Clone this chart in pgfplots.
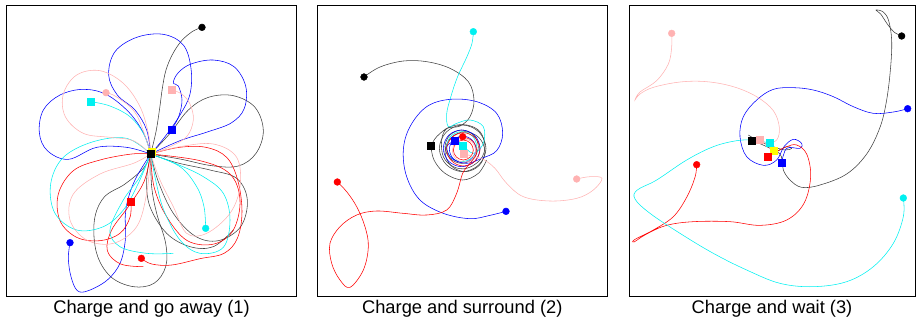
\documentclass[border=0pt]{standalone}
\usepackage{fontspec}
\setmainfont{Liberation Sans}
\usepackage{pgfplots}
\pgfplotsset{compat=1.18}
\definecolor{pinkc}{RGB}{255,178,178}
\definecolor{cyanc}{RGB}{0,240,240}
\definecolor{yel}{RGB}{255,255,0}
\pgfplotsset{
  panel/.style={scale only axis, y dir=reverse, ymin=17, ymax=888,
    xtick=\empty, ytick=\empty, axis line style={line width=0.6pt},
    anchor=north west, clip=true},
  tr/.style={smooth, tension=0.6, line width=0.55pt, no marks},
  dot/.style={only marks, mark=*, mark size=3.4pt, mark options={draw=#1, fill=#1}, color=#1},
  sq/.style={only marks, mark=square*, mark size=3.6pt, mark options={draw=#1, fill=#1}, color=#1},
}
\begin{document}
\begin{tikzpicture}[x=1pt,y=1pt]
\useasboundingbox (0,0) rectangle (916,-322);
% ---------------- Panel 1 ----------------
\begin{axis}[panel, at={(6.67pt,-5.67pt)}, width=289.33pt, height=290.33pt, xmin=20, xmax=888]
% black
\addplot[tr, black!75] coordinates {(606,82) (578,94) (545,122) (518,162) (498,210) (487,265) (479,325) (468,395) (452,462)};
\addplot[tr, black!75] coordinates {(452,462) (510,400) (565,330) (625,292) (700,287) (765,322) (790,392) (768,460) (715,498) (635,497) (545,478) (452,462)};
\addplot[tr, black!75] coordinates {(452,462) (530,488) (630,510) (710,535) (742,600) (722,680) (655,722) (585,708) (520,640) (475,545) (452,462)};
\addplot[tr, black!75] coordinates {(452,462) (430,505) (375,552) (312,592) (283,662) (290,760) (332,830) (400,860) (462,850) (497,800) (497,730) (470,640) (455,560) (452,462)};
\addplot[tr, black!75] coordinates {(452,462) (440,540) (450,620) (500,700) (570,740) (640,740) (700,690)};
% blue
\addplot[tr, blue] coordinates {(210,728) (205,775) (213,830) (232,872) (265,872) (322,840) (360,790) (376,720) (376,645) (386,590) (410,530) (452,462)};
\addplot[tr, blue] coordinates {(452,462) (440,390) (405,330) (352,285) (326,225) (345,155) (410,112) (490,103) (550,135) (573,205) (570,282) (540,345) (495,410) (452,462)};
\addplot[tr, blue] coordinates {(452,462) (540,422) (625,395) (695,368) (733,325) (737,258) (702,200) (640,180) (573,192) (535,218) (520,248) (535,258) (546,300) (536,350) (515,388)};
\addplot[tr, blue] coordinates {(452,462) (380,442) (290,442) (205,478) (142,452) (118,398) (130,330) (180,285) (250,268) (320,284) (388,338) (432,402) (452,462)};
% red
\addplot[tr, red] coordinates {(424,775) (455,792) (515,795) (600,776) (672,760) (712,715) (726,635) (713,540) (680,472) (618,442) (538,442) (452,462)};
\addplot[tr, red] coordinates {(452,462) (395,462) (300,480) (220,512) (175,582) (180,662) (230,712) (300,722) (360,700) (390,652) (393,604)};
\addplot[tr, red] coordinates {(452,462) (462,560) (500,650) (562,722) (642,732) (700,690) (720,600) (690,522) (600,482) (452,462)};
\addplot[tr, red] coordinates {(452,462) (432,545) (385,620) (335,690) (322,752) (362,792) (430,800)};
% cyan
\addplot[tr, cyanc] coordinates {(273,305) (330,318) (390,350) (430,400) (452,462)};
\addplot[tr, cyanc] coordinates {(452,462) (380,415) (280,425) (190,472) (152,552) (165,640) (230,690) (310,680) (370,630) (415,550) (452,462)};
\addplot[tr, cyanc] coordinates {(452,462) (468,545) (492,632) (540,720) (600,760) (670,742) (690,660) (670,580) (610,530) (530,492) (452,462)};
\addplot[tr, cyanc] coordinates {(452,462) (540,500) (590,560) (612,620) (617,685)};
\addplot[tr, cyanc] coordinates {(452,462) (420,530) (370,600) (330,690) (360,740) (440,760) (520,760)};
% pink
\addplot[tr, pinkc] coordinates {(516,270) (545,282) (570,312) (580,360) (560,410) (510,440) (452,462)};
\addplot[tr, pinkc] coordinates {(452,462) (445,400) (420,320) (370,250) (300,212) (230,225) (190,282) (196,350) (250,400) (330,412) (400,422) (452,462)};
\addplot[tr, pinkc] coordinates {(318,278) (352,292) (410,345) (452,462)};
\addplot[tr, pinkc] coordinates {(452,462) (400,490) (300,522) (220,582) (210,660) (260,720) (340,730) (410,680) (440,580) (452,462)};
\addplot[tr, pinkc] coordinates {(452,462) (540,440) (640,432) (710,472) (720,560) (690,640) (620,700) (560,700) (520,620) (480,540) (452,462)};
% markers
\addplot[sq=yel] coordinates {(456,455)};
\addplot[sq=black] coordinates {(452,462)};
\addplot[sq=pinkc] coordinates {(516,270)};
\addplot[sq=cyanc] coordinates {(273,305)};
\addplot[sq=blue] coordinates {(515,388)};
\addplot[sq=red] coordinates {(393,604)};
\addplot[dot=black] coordinates {(606,82)};
\addplot[dot=pinkc] coordinates {(318,278)};
\addplot[dot=blue] coordinates {(210,728)};
\addplot[dot=red] coordinates {(424,775)};
\addplot[dot=cyanc] coordinates {(617,685)};
\end{axis}
% ---------------- Panel 2 ----------------
\begin{axis}[panel, at={(317.33pt,-5.67pt)}, width=290pt, height=290.33pt, xmin=22, xmax=892]
\addplot[tr, black!75] coordinates {(162,231) (210,201) (280,183) (350,185) (420,205) (475,245) (492,300) (480,350) (450,378) (410,386) (395,420) (400,470) (430,500) (470,505) (510,480) (525,440) (510,395) (470,375) (420,380) (380,410) (363,438)};
\addplot[tr, black!75] coordinates {(363,438) (372,480) (405,520) (458,540) (505,520) (530,480)};
\addplot[tr, black!75, smooth cycle] coordinates {(528,445) (507,494) (458,515) (409,494) (388,445) (409,396) (458,375) (507,396)};
\addplot[tr, black!75, smooth cycle] coordinates {(525,455) (507,497) (465,515) (423,497) (405,455) (423,413) (465,395) (507,413)};
\addplot[tr, black!75, smooth cycle] coordinates {(505,440) (490,475) (455,490) (420,475) (405,440) (420,405) (455,390) (490,405)};
\addplot[tr, cyanc] coordinates {(490,95) (486,130) (470,172) (442,232) (422,292) (410,342) (415,380) (440,370) (480,360) (520,380) (520,430) (490,460) (458,435)};
\addplot[tr, cyanc, smooth cycle] coordinates {(500,440) (487,472) (455,485) (423,472) (410,440) (423,408) (455,395) (487,408)};
\addplot[tr, blue] coordinates {(588,634) (540,646) (480,656) (400,640) (330,600) (290,530) (280,450) (300,380) (350,320) (420,298) (500,305) (560,340) (578,400) (560,452) (515,475) (470,490) (425,475) (410,440) (435,422)};
\addplot[tr, blue, smooth cycle] coordinates {(510,445) (494,484) (455,500) (416,484) (400,445) (416,406) (455,390) (494,406)};
\addplot[tr, blue, smooth cycle] coordinates {(498,448) (486,476) (458,488) (430,476) (418,448) (430,420) (458,408) (486,420)};
\addplot[tr, red] coordinates {(82,546) (110,575) (140,620) (165,680) (175,740) (160,810) (120,862) (90,840) (65,790) (60,730) (90,680) (140,645) (200,633) (280,640) (350,645) (410,630) (440,580) (458,520) (480,490) (500,460) (490,425) (458,410)};
\addplot[tr, red, smooth cycle] coordinates {(510,448) (495,483) (460,498) (425,483) (410,448) (425,413) (460,398) (495,413)};
\addplot[tr, red, smooth cycle] coordinates {(490,450) (481,471) (460,480) (439,471) (430,450) (439,429) (460,420) (481,429)};
\addplot[tr, pinkc] coordinates {(800,537) (840,530) (876,535) (850,570) (800,595) (720,603) (640,590) (590,550) (555,505) (520,478) (490,470) (460,460)};
\addplot[tr, pinkc, smooth cycle] coordinates {(497,452) (487,477) (462,487) (437,477) (427,452) (437,427) (462,417) (487,427)};
\addplot[sq=black] coordinates {(363,438)};
\addplot[sq=pinkc] coordinates {(460,460)};
\addplot[sq=cyanc] coordinates {(458,437)};
\addplot[sq=blue] coordinates {(435,422)};
\addplot[dot=red] coordinates {(458,410)};
\addplot[dot=black] coordinates {(162,231)};
\addplot[dot=cyanc] coordinates {(490,95)};
\addplot[dot=red] coordinates {(82,546)};
\addplot[dot=blue] coordinates {(588,634)};
\addplot[dot=pinkc] coordinates {(800,537)};
\end{axis}
% ---------------- Panel 3 ----------------
\begin{axis}[panel, at={(629pt,-5.67pt)}, width=286pt, height=290.33pt, xmin=27, xmax=885]
\addplot[tr, black!75] coordinates {(845,108) (822,96) (802,72) (782,42) (768,30) (790,36) (806,62) (815,120) (812,200) (800,300) (780,382) (740,462) (680,522) (600,555) (545,562) (510,540) (490,510) (486,480) (478,460) (440,440) (395,420)};
\addplot[tr, black!75] coordinates {(470,455) (500,440) (515,445) (495,450) (460,440) (420,425) (385,405)};
\addplot[tr, blue] coordinates {(863,326) (820,336) (760,340) (700,320) (640,290) (580,270) (520,263) (460,268) (410,300) (370,350) (360,410) (380,470) (430,496) (470,480) (492,440) (520,418) (545,430) (540,445) (500,445) (485,488)};
\addplot[tr, red] coordinates {(230,494) (225,532) (200,592) (160,650) (100,690) (45,718) (42,726) (80,702) (140,676) (220,665) (330,665) (420,676) (500,660) (552,610) (572,530) (560,462) (530,435) (500,440) (470,455) (442,470)};
\addplot[tr, cyanc] coordinates {(850,594) (850,650) (820,730) (760,800) (680,845) (580,860) (480,850) (380,810) (280,760) (180,700) (90,640) (45,597) (52,570) (110,540) (200,480) (280,440) (350,422) (400,420) (430,425) (450,430)};
\addplot[tr, pinkc] coordinates {(155,100) (155,142) (145,192) (110,242) (60,276) (45,300) (60,282) (100,262) (180,246) (260,245) (340,260) (410,290) (460,332) (478,382) (470,420) (440,430) (420,420)};
\addplot[sq=yel] coordinates {(462,452)};
\addplot[sq=black] coordinates {(395,422)};
\addplot[sq=pinkc] coordinates {(420,420)};
\addplot[sq=cyanc] coordinates {(450,428)};
\addplot[sq=red] coordinates {(442,470)};
\addplot[sq=blue] coordinates {(485,488)};
\addplot[dot=black] coordinates {(845,108)};
\addplot[dot=blue] coordinates {(863,326)};
\addplot[dot=pinkc] coordinates {(155,100)};
\addplot[dot=red] coordinates {(230,494)};
\addplot[dot=cyanc] coordinates {(850,594)};
\end{axis}
\begin{scope}[font=\fontsize{18.3pt}{21pt}\selectfont]
\node[anchor=base] at (151.5,-313.5) {Charge and go away (1)};
\node[anchor=base] at (462.3,-313.5) {Charge and surround (2)};
\node[anchor=base] at (772,-313.5) {Charge and wait (3)};
\end{scope}
\end{tikzpicture}
\end{document}
